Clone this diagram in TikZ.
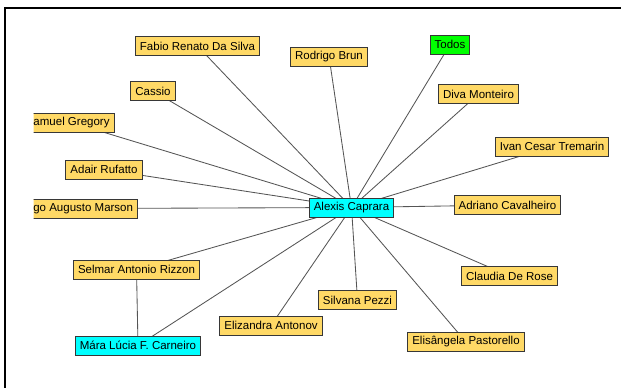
\documentclass[tikz,border=0pt]{standalone}
\usepackage{fontspec}
\setmainfont{Liberation Sans}
\usetikzlibrary{backgrounds}
\definecolor{nodeyellow}{RGB}{255,217,102}
\definecolor{nodecyan}{RGB}{0,255,255}
\definecolor{nodegreen}{RGB}{0,255,0}
\definecolor{edgegray}{RGB}{85,85,85}
\definecolor{bordergray}{RGB}{55,55,55}
\tikzset{
  person/.style={draw=bordergray, line width=0.9pt, fill=nodeyellow, minimum height=19pt,
    inner xsep=4.5pt, inner ysep=0pt, font=\fontsize{11.5}{13}\selectfont},
  selected/.style={person, fill=nodecyan},
  group/.style={person, fill=nodegreen},
  link/.style={draw=edgegray, line width=0.85pt}
}
\begin{document}
\begin{tikzpicture}[x=1pt,y=-1pt]
\useasboundingbox (0,0) rectangle (621,388);
\draw[line width=2.4pt, black] (5.2,388) -- (5.2,7.7) -- (621,7.7);

\node[selected] (alexis) at (351.5,207.5) {Alexis Caprara};
\node[person] (fabio) at (197.5,46) {Fabio Renato Da Silva};
\node[person] (rodrigo) at (329,56.5) {Rodrigo Brun};
\node[group] (todos) at (450,44.5) {Todos};
\node[person] (cassio) at (153,91) {Cassio};
\node[person] (diva) at (478.5,94) {Diva Monteiro};
\node[person] (ivan) at (552,146.5) {Ivan Cesar Tremarin};
\node[person] (adair) at (104,169.5) {Adair Rufatto};
\node[person] (adriano) at (507.5,205) {Adriano Cavalheiro};
\node[person] (claudia) at (509.5,276) {Claudia De Rose};
\node[person] (silvana) at (357.5,300) {Silvana Pezzi};
\node[person] (elizandra) at (271,325.5) {Elizandra Antonov};
\node[person] (elisangela) at (466,342) {Elisângela Pastorello};
\node[person] (selmar) at (136.5,269.5) {Selmar Antonio Rizzon};
\node[selected] (mara) at (138,345.5) {Mára Lúcia F. Carneiro};
\begin{scope}
  \clip (33.5,0) rectangle (621,388);
  \node[person, anchor=east] (samuel) at (114.5,122.5) {amuel Gregory};
  \node[person, anchor=east] (marson) at (138,208.5) {go Augusto Marson};
\end{scope}

\begin{scope}[on background layer]
  \foreach \n in {fabio,rodrigo,todos,cassio,diva,ivan,adair,adriano,claudia,silvana,elizandra,elisangela,selmar,mara,samuel,marson}
    \draw[link] (alexis.center) -- (\n.center);
  \draw[link] (selmar.center) -- (mara.center);
\end{scope}
\end{tikzpicture}
\end{document}
